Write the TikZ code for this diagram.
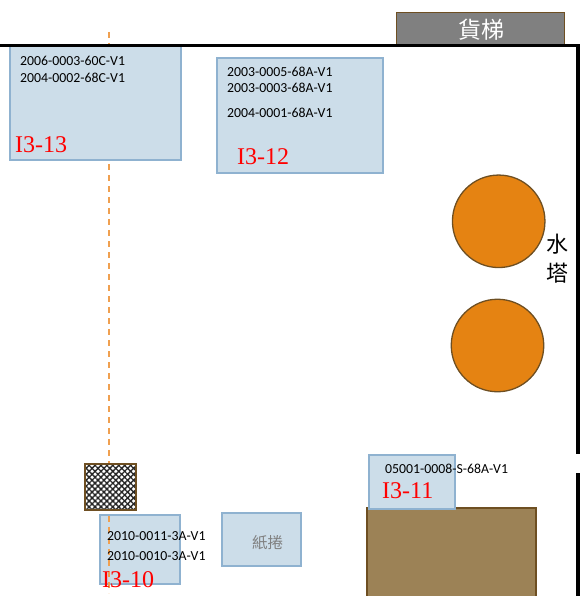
\documentclass[tikz,border=0pt]{standalone}
\usepackage{fontspec}
\setmainfont{Carlito}
\newfontfamily\serifx{Liberation Serif}
\newfontfamily\cjk{Noto Sans CJK TC}
\usetikzlibrary{patterns.meta}
\definecolor{boxfill}{HTML}{CCDDE9}
\definecolor{boxline}{HTML}{8FB2D0}
\definecolor{brownline}{HTML}{6E4F22}
\definecolor{brownfill}{HTML}{9C8256}
\definecolor{tankfill}{HTML}{E58312}
\definecolor{dashline}{HTML}{F0A050}
\tikzset{
  x=1pt,y=-1pt,
  area/.style={draw=boxline,fill=boxfill,line width=2pt,inner sep=0pt,outer sep=0pt,anchor=north west},
  brownbox/.style={draw=brownline,line width=1.8pt,inner sep=0pt,outer sep=0pt,anchor=north west},
  tank/.style={circle,draw=brownline,fill=tankfill,line width=1.3pt,inner sep=0pt,minimum size=92.5pt},
  code/.style={font=\fontsize{13.8}{15}\selectfont,text=black,inner sep=0pt,anchor=west},
  zone/.style={font=\serifx\fontsize{24}{26}\selectfont,text=red,inner sep=0pt,anchor=west},
  wall/.style={draw=black,line width=3.8pt,line cap=butt},
  guide/.style={draw=dashline,line width=1.5pt,dash pattern=on 6pt off 5pt},
  cjklabel/.style={font=\cjk\fontsize{22}{24}\selectfont,inner sep=0pt},
}
\begin{document}
\begin{tikzpicture}
\useasboundingbox (0,0) rectangle (580,596);
% lift
\node[brownbox,fill=black!50,minimum width=168pt,minimum height=34pt] (lift) at (396.5,12.5) {};
\node[cjklabel,text=white,font=\cjk\fontsize{23}{25}\selectfont] (lifttext) at (481,30) {貨梯};
% lower boxes and guide
\node[area,minimum width=80.5pt,minimum height=69.5pt] (b10) at (99.5,514.5) {};
\coordinate (gtop) at (109,32);
\coordinate (gbot) at (109,593);
\draw[guide] (gtop) -- (gbot);
% upper boxes
\node[area,minimum width=171.5pt,minimum height=115pt] (b13) at (9.5,45) {};
\node[area,minimum width=166pt,minimum height=115pt] (b12) at (217,58) {};
% walls
\coordinate (wa) at (0,45.5);
\coordinate (wb) at (578.2,45.5);
\coordinate (wc) at (578.2,453.5);
\coordinate (wd) at (578.2,473);
\coordinate (we) at (578.2,596);
\draw[wall] (wa) -- (wb) -- (wc);
\draw[wall] (wd) -- (we);
% tanks
\node[tank] (t1) at (498.7,221.3) {};
\node[tank] (t2) at (497.5,345.5) {};
\node[cjklabel] (shui) at (557,244) {水};
\node[cjklabel] (ta) at (557.5,273) {塔};
% hatch
\node[brownbox,minimum width=51pt,minimum height=46pt,fill=white,
  postaction={pattern={Lines[angle=45,distance=4.2pt,line width=1.35pt]},pattern color=black!85},
  postaction={pattern={Lines[angle=-45,distance=4.2pt,line width=1.35pt]},pattern color=black!85},
  postaction={draw=brownline,line width=1.8pt}] (hatch) at (85,464) {};
% paper rolls
\node[area,minimum width=79.5pt,minimum height=53.5pt] (roll) at (221.5,512.5) {};
\node[cjklabel,text=black!50,font=\cjk\fontsize{15.5}{17}\selectfont] (rolltext) at (267.5,542.5) {紙捲};
% brown block and I3-11
\node[brownbox,fill=brownfill,minimum width=169pt,minimum height=100pt] (block) at (367,508) {};
\node[area,minimum width=86pt,minimum height=54pt] (b11) at (368.5,455) {};
% labels
\node[code] (c1) at (20,61) {2006-0003-60C-V1};
\node[code] (c2) at (20,78) {2004-0002-68C-V1};
\node[code] (c3) at (227,72) {2003-0005-68A-V1};
\node[code] (c4) at (227,87.5) {2003-0003-68A-V1};
\node[code] (c5) at (227,113) {2004-0001-68A-V1};
\node[code] (c6) at (385,469) {05001-0008-S-68A-V1};
\node[code] (c7) at (107,536) {2010-0011-3A-V1};
\node[code] (c8) at (107,556) {2010-0010-3A-V1};
\node[zone] (z13) at (15,145) {I3-13};
\node[zone] (z12) at (237,157) {I3-12};
\node[zone] (z11) at (382,491) {I3-11};
\node[zone] (z10) at (102,580) {I3-10};
\end{tikzpicture}
\end{document}
